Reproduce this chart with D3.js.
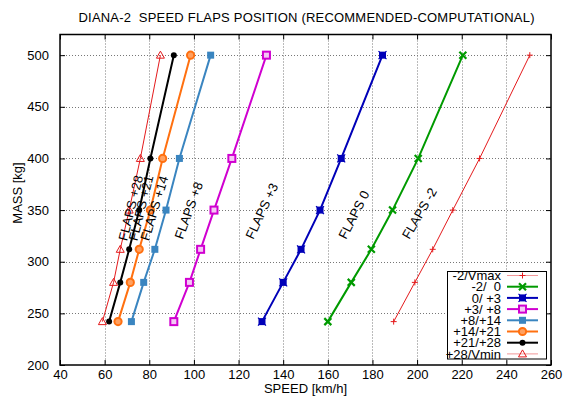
<!DOCTYPE html>
<html>
<head>
<meta charset="utf-8">
<script src="https://cdn.jsdelivr.net/npm/d3@7"></script>
<style>
  body { margin: 0; background: #fff; }
  text { font-family: "Liberation Sans", Arial, sans-serif; font-size: 13px; fill: #000; }
</style>
</head>
<body>
<script>
// data
const masses = [242, 280, 312, 350, 400, 500];
const vmax    = [189.5, 199, 207, 216, 228, 250.5];
const f_2_0   = [160, 170.5, 179.5, 189, 200.5, 220.5];
const f0_3    = [130.5, 140, 148, 156.5, 166, 184.5];
const f3_8    = [91, 98, 103, 109, 117, 132.5];
const f8_14   = [72, 77.5, 82.5, 87.5, 93.5, 107.5];
const f14_21  = [66, 71.5, 75.5, 80.5, 86, 98.5];
const f21_28  = [62, 67, 71, 75.5, 80.5, 91];
const vmin    = [59, 64, 67, 71, 76, 85];

const legendNames = ["-2/Vmax", "-2/  0", "0/ +3", "+3/ +8", "+8/+14", "+14/+21", "+21/+28", "+28/Vmin"];
const flapNames = ["FLAPS -2", "FLAPS 0", "FLAPS +3", "FLAPS +8", "FLAPS +14", "FLAPS +21", "FLAPS +28"];
// label anchor (speed, mass) and rotation
const flapSpeed = [196.5, 168.2, 126.6, 95, 79.8, 74.6, 70];
const flapMass  = [321, 321, 321, 321, 319.5, 319.5, 319.5];
const flapAngle = [-60, -63, -65, -70, -73, -76, -76];

const xTicks = d3.range(40, 261, 20);
const yTicks = d3.range(200, 501, 50);

const w = 564, h = 398;
const mLeft = 60, mRight = 551, mTop = 34.5, mBottom = 365;

const series = [vmax, f_2_0, f0_3, f3_8, f8_14, f14_21, f21_28, vmin];
const styles = [
  { color: "#e41a1c", width: 1, mark: "plus" },
  { color: "#009a00", width: 2, mark: "times" },
  { color: "#0000b8", width: 2, mark: "bsquare" },
  { color: "#d000d0", width: 2, mark: "osquare" },
  { color: "#3a85c0", width: 2, mark: "square" },
  { color: "#ff7010", width: 2, mark: "circle" },
  { color: "#000000", width: 2, mark: "dot" },
  { color: "#e41a1c", width: 1, mark: "triangle" }
];

const x = d3.scaleLinear().domain([40, 260]).range([mLeft, mRight]);
const y = d3.scaleLinear().domain([200, 520]).range([mBottom, mTop]);

const svg = d3.select("body").append("svg")
  .attr("width", w).attr("height", h);

// grid
svg.append("g").selectAll("line").data(xTicks.slice(1, -1)).enter().append("line")
  .attr("x1", d => Math.round(x(d)) + 0.5).attr("x2", d => Math.round(x(d)) + 0.5)
  .attr("y1", mTop).attr("y2", mBottom)
  .attr("stroke", "#777").attr("stroke-dasharray", "1,2");
svg.append("g").selectAll("line").data(yTicks.slice(1)).enter().append("line")
  .attr("y1", d => Math.round(y(d)) + 0.5).attr("y2", d => Math.round(y(d)) + 0.5)
  .attr("x1", mLeft).attr("x2", mRight)
  .attr("stroke", "#777").attr("stroke-dasharray", "1,2");

// axes, ticks inward, mirrored
const tk = 5;
svg.append("g").attr("transform", "translate(0," + mBottom + ")")
  .call(d3.axisBottom(x).tickValues(xTicks).tickSize(-tk).tickPadding(5))
  .call(g => g.select(".domain").remove());
svg.append("g").attr("transform", "translate(0," + mTop + ")")
  .call(d3.axisTop(x).tickValues(xTicks).tickSize(-tk).tickFormat(""))
  .call(g => g.select(".domain").remove());
svg.append("g").attr("transform", "translate(" + mLeft + ",0)")
  .call(d3.axisLeft(y).tickValues(yTicks).tickSize(-tk).tickPadding(11))
  .call(g => g.select(".domain").remove());
svg.append("g").attr("transform", "translate(" + mRight + ",0)")
  .call(d3.axisRight(y).tickValues(yTicks).tickSize(-tk).tickFormat(""))
  .call(g => g.select(".domain").remove());
svg.selectAll(".tick text").style("font-size", "13px").style("font-family", "Liberation Sans, Arial, sans-serif");
svg.selectAll(".tick line").attr("stroke", "#000");

svg.append("rect")
  .attr("x", mLeft).attr("y", mTop)
  .attr("width", mRight - mLeft).attr("height", mBottom - mTop)
  .attr("fill", "none").attr("stroke", "#000").attr("stroke-width", 1.5);

// markers
function drawMark(g, type, color, cx, cy) {
  if (type === "plus") {
    g.append("path").attr("d", `M${cx-3},${cy}H${cx+3}M${cx},${cy-3}V${cy+3}`)
      .attr("stroke", color).attr("stroke-width", 1);
  } else if (type === "times") {
    g.append("path").attr("d", `M${cx-3.5},${cy-3.5}L${cx+3.5},${cy+3.5}M${cx-3.5},${cy+3.5}L${cx+3.5},${cy-3.5}`)
      .attr("stroke", color).attr("stroke-width", 2.2);
  } else if (type === "bsquare") {
    g.append("rect").attr("x", cx - 3.5).attr("y", cy - 3.5).attr("width", 7).attr("height", 7).attr("fill", color);
    g.append("path").attr("d", `M${cx-4},${cy-4}L${cx+4},${cy+4}M${cx-4},${cy+4}L${cx+4},${cy-4}`)
      .attr("stroke", color).attr("stroke-width", 1.2);
  } else if (type === "osquare") {
    g.append("rect").attr("x", cx - 3.5).attr("y", cy - 3.5).attr("width", 7).attr("height", 7)
      .attr("fill", "#f4c8f4").attr("stroke", color).attr("stroke-width", 2);
  } else if (type === "square") {
    g.append("rect").attr("x", cx - 3.5).attr("y", cy - 3.5).attr("width", 7).attr("height", 7).attr("fill", color);
  } else if (type === "circle") {
    g.append("circle").attr("cx", cx).attr("cy", cy).attr("r", 3.6)
      .attr("fill", "#ffa060").attr("stroke", color).attr("stroke-width", 2);
  } else if (type === "dot") {
    g.append("circle").attr("cx", cx).attr("cy", cy).attr("r", 3).attr("fill", color);
  } else if (type === "triangle") {
    g.append("path").attr("d", `M${cx},${cy-4}L${cx+4},${cy+3}L${cx-4},${cy+3}Z`)
      .attr("fill", "none").attr("stroke", color).attr("stroke-width", 1);
  }
}

const line = d3.line().x(d => x(d[0])).y(d => y(d[1]));

series.forEach((s, i) => {
  const st = styles[i];
  const pts = s.map((v, j) => [v, masses[j]]);
  const g = svg.append("g");
  g.append("path").datum(pts).attr("d", line)
    .attr("fill", "none").attr("stroke", st.color).attr("stroke-width", st.width);
  pts.forEach(p => drawMark(g, st.mark, st.color, x(p[0]), y(p[1])));
});

// flap labels
svg.append("g").selectAll("text").data(flapNames).enter().append("text")
  .attr("transform", (d, i) => "translate(" + x(flapSpeed[i]) + "," + y(flapMass[i]) + ") rotate(" + flapAngle[i] + ")")
  .text(d => d);

// legend
const lg = svg.append("g");
lg.append("rect").attr("x", 447.5).attr("y", 271.5).attr("width", 99).attr("height", 87.5)
  .attr("fill", "#fff").attr("stroke", "#000").attr("stroke-width", 1);
legendNames.forEach((name, i) => {
  const cy = 275.5 + i * 11.2;
  lg.append("text").attr("x", 501).attr("y", cy + 4.6).attr("text-anchor", "end")
    .attr("xml:space", "preserve").style("white-space", "pre").text(name);
  lg.append("line").attr("x1", 507).attr("x2", 538).attr("y1", cy).attr("y2", cy)
    .attr("stroke", styles[i].color).attr("stroke-width", styles[i].width)
    .attr("stroke-opacity", styles[i].width === 1 ? 0.45 : 1);
  drawMark(lg, styles[i].mark, styles[i].color, 522.5, cy);
});

// titles
svg.append("text").attr("x", 306.5).attr("y", 22).attr("text-anchor", "middle")
  .attr("textLength", 456).attr("lengthAdjust", "spacing")
  .attr("xml:space", "preserve").style("white-space", "pre")
  .text("DIANA-2  SPEED FLAPS POSITION (RECOMMENDED-COMPUTATIONAL)");
svg.append("text").attr("x", (mLeft + mRight) / 2).attr("y", 393).attr("text-anchor", "middle")
  .text("SPEED [km/h]");
svg.append("text").attr("transform", "translate(22,193) rotate(-90)")
  .attr("text-anchor", "middle").text("MASS [kg]");
</script>
</body>
</html>
